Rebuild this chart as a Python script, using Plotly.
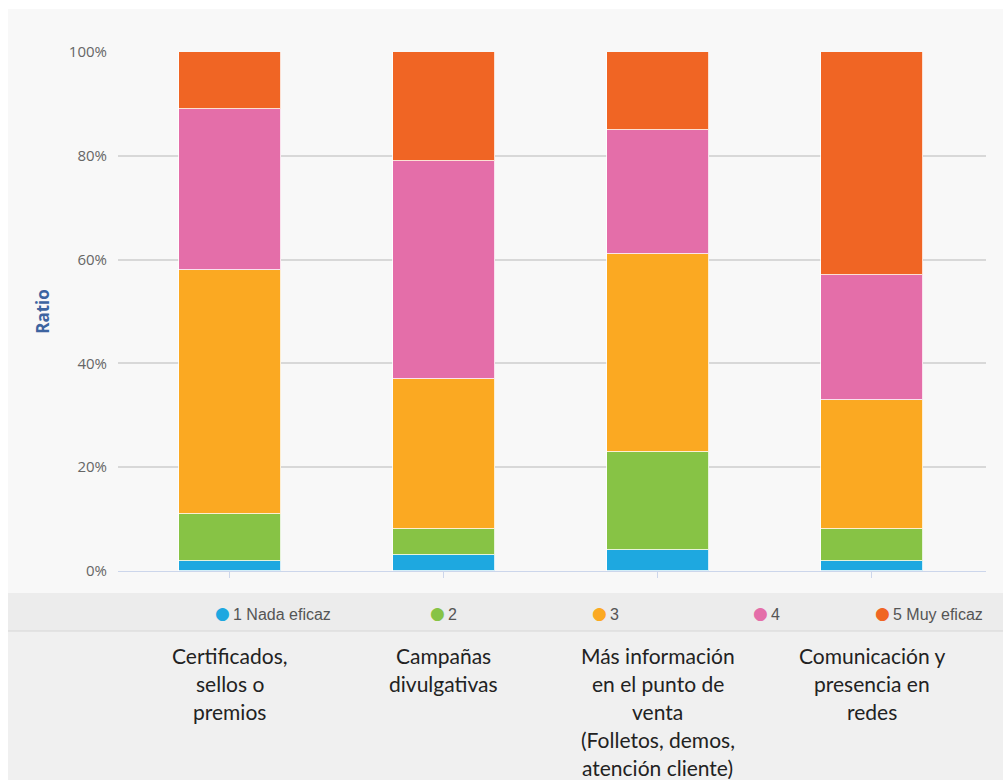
import plotly.graph_objects as go

# Share of answers per rating level (percent of respondents)
categories = [
    "Certificados, sellos o premios",
    "Campañas divulgativas",
    "Más información en el punto de venta (Folletos, demos, atención cliente)",
    "Comunicación y presencia en redes",
]
category_lines = [
    ["Certificados,", "sellos o", "premios"],
    ["Campañas", "divulgativas"],
    ["Más información", "en el punto de", "venta", "(Folletos, demos,", "atención cliente)"],
    ["Comunicación y", "presencia en", "redes"],
]
series_names = ["1 Nada eficaz", "2", "3", "4", "5 Muy eficaz"]
nada_eficaz = [2, 3, 4, 2]
nivel_2 = [9, 5, 19, 6]
nivel_3 = [47, 29, 38, 25]
nivel_4 = [31, 42, 24, 24]
muy_eficaz = [11, 21, 15, 43]
series_values = [nada_eficaz, nivel_2, nivel_3, nivel_4, muy_eficaz]
y_ticks = [0, 20, 40, 60, 80, 100]
y_tick_labels = ["0%", "20%", "40%", "60%", "80%", "100%"]

colors = ["#1ea8e0", "#87c345", "#fba922", "#e46ea9", "#f06524"]

W, H = 1003, 780
L, R, T, B = 118, 986, 52, 571  # plot area in pixels


def px(x):
    return (x - L) / (R - L)


def py(y):
    return (B - y) / (B - T)


fig = go.Figure()
for name, vals, col in zip(series_names, series_values, colors):
    fig.add_trace(go.Bar(
        x=list(range(len(categories))),
        y=vals,
        name=name,
        width=0.475,
        marker=dict(color=col, line=dict(color="rgba(255,255,255,0.8)", width=1)),
        hovertext=categories,
        showlegend=False,
    ))

shapes = [
    # chart background
    dict(type="rect", xref="paper", yref="paper", layer="below",
         x0=px(8), x1=px(W + 2), y0=py(593), y1=py(9),
         fillcolor="#f8f8f8", line=dict(width=0)),
    # legend band
    dict(type="rect", xref="paper", yref="paper", layer="below",
         x0=px(8), x1=px(W + 2), y0=py(631), y1=py(593),
         fillcolor="#ececec", line=dict(width=0)),
    # lower panel with category names
    dict(type="rect", xref="paper", yref="paper", layer="below",
         x0=px(8), x1=px(W + 2), y0=py(H + 2), y1=py(631),
         fillcolor="#f0f0f0", line=dict(width=0)),
    dict(type="line", xref="paper", yref="paper", layer="below",
         x0=px(8), x1=px(W + 2), y0=py(631), y1=py(631),
         line=dict(color="#d6d6d6", width=1)),
]

annotations = []
# legend entries drawn as coloured dots with labels
legend_x = [222, 437, 599, 760, 882]
for name, col, lx in zip(series_names, colors, legend_x):
    annotations.append(dict(
        x=px(lx), y=py(613), xref="paper", yref="paper",
        text="●", showarrow=False, xanchor="center", yanchor="middle",
        font=dict(color=col, size=17, family="DejaVu Sans"),
    ))
    annotations.append(dict(
        x=px(lx + 9), y=py(614), xref="paper", yref="paper",
        text=name, showarrow=False, xanchor="left", yanchor="middle",
        font=dict(color="#555555", size=16, family="Liberation Sans"),
    ))

# category names beneath the legend, one annotation per line
for i, lines in enumerate(category_lines):
    for j, line in enumerate(lines):
        annotations.append(dict(
            x=i, y=py(655 + j * 28.2), xref="x", yref="paper",
            text=line, showarrow=False, xanchor="center", yanchor="middle",
            font=dict(color="#222222", size=21, family="Lato"),
        ))

fig.update_layout(
    barmode="stack",
    width=W, height=H,
    margin=dict(l=L, r=W - R, t=T, b=H - B, pad=0),
    paper_bgcolor="white",
    plot_bgcolor="rgba(0,0,0,0)",
    bargap=0,
    shapes=shapes,
    annotations=annotations,
    xaxis=dict(
        range=[-0.523, 3.533],
        tickvals=list(range(len(categories))),
        showticklabels=False,
        ticks="outside", ticklen=6, tickcolor="#ccd6eb", tickwidth=1,
        showgrid=False, zeroline=False,
        showline=True, linecolor="#ccd6eb", linewidth=1,
        fixedrange=True,
    ),
    yaxis=dict(
        range=[0, 100],
        tickvals=y_ticks, ticktext=y_tick_labels,
        tickfont=dict(color="#666666", size=15, family="Open Sans"),
        ticks="", ticklabelstandoff=10,
        showgrid=True, gridcolor="#d8d8d8", gridwidth=1.5,
        zeroline=False,
        title=dict(text="Ratio", standoff=14,
                   font=dict(color="#3d64a0", size=17, family="Open Sans", weight="bold")),
        fixedrange=True,
    ),
    showlegend=False,
)

fig.write_html("out.html")
